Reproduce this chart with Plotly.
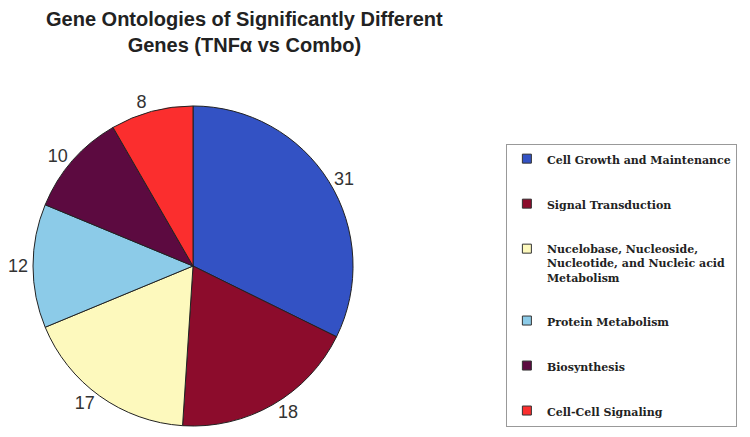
import plotly.graph_objects as go

labels = ["Cell Growth and Maintenance", "Signal Transduction",
          "Nucelobase, Nucleoside,<br>Nucleotide, and Nucleic acid<br>Metabolism",
          "Protein Metabolism", "Biosynthesis", "Cell-Cell Signaling"]
values = [31, 18, 17, 12, 10, 8]
colors = ["#3352c4", "#8c0c2c", "#fdf9bd", "#8ccbe8", "#5c0a40", "#fb2e2e"]
title_text = "Gene Ontologies of Significantly Different<br>Genes (TNFα vs Combo)"

fig = go.Figure()
fig.add_trace(go.Pie(labels=labels, values=values, sort=False,
                     direction="clockwise", rotation=0,
                     marker=dict(colors=colors, line=dict(color="#222222", width=1)),
                     textinfo="value", textposition="outside",
                     textfont=dict(family="Liberation Sans, Arial", size=18, color="#333333"),
                     domain=dict(x=[0.0, 0.4987], y=[0.0256, 0.7716]),
                     showlegend=False, hoverinfo="label+value"))

# legend entries as separate groups so the spacing between them can be set
for name, c in zip(labels, colors):
    fig.add_trace(go.Scatter(x=[None], y=[None], mode="markers", name=name,
                             legendgroup=name,
                             marker=dict(symbol="square", size=9, color=c,
                                         line=dict(color="#333333", width=1))))

# title as a paper annotation: multi-line layout titles get pushed above the top edge
fig.add_annotation(text=title_text, xref="paper", yref="paper",
                   x=0.319, y=1.0, xanchor="center", yanchor="top", yshift=2,
                   showarrow=False, align="center",
                   font=dict(family="Liberation Sans, Arial", size=20,
                             color="#222222", weight="bold"))

# page body has an 8px margin, so the figure is 742x429 to fill the window
fig.update_layout(
    width=742, height=429,
    margin=dict(l=0, r=0, t=0, b=0, autoexpand=False),
    paper_bgcolor="white", plot_bgcolor="white",
    xaxis=dict(visible=False), yaxis=dict(visible=False),
    legend=dict(x=0.671, y=0.683, xanchor="left", yanchor="top",
                bordercolor="#999999", borderwidth=1, bgcolor="white",
                tracegroupgap=26, valign="top",
                font=dict(family="DejaVu Serif", size=11,
                          color="#222222", weight="bold")),
)

fig.write_html("out.html")
